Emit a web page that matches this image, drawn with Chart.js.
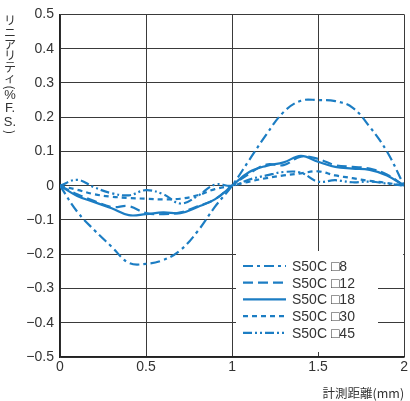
<!DOCTYPE html>
<html>
<head>
    <meta charset="utf-8">
    <title>リニアリティ - S50C</title>
    <style>
        body {
            margin: 0;
            background-color: #fff;
        }
        #wrap {
            width: 410px;
            height: 401px;
        }
    </style>
</head>
<body>
    <div id="wrap">
        <canvas id="lin-chart" width="410" height="401"></canvas>
    </div>

    <script src="https://cdn.jsdelivr.net/npm/chart.js"></script>
    <script>
        // measurement positions (mm)
        const distances = [0, 0.1, 0.2, 0.3, 0.4, 0.5, 0.6, 0.7, 0.8, 0.9, 1.0,
                           1.1, 1.2, 1.3, 1.4, 1.5, 1.6, 1.7, 1.8, 1.9, 2.0];

        // linearity (%F.S.) per target size
        const s50c8  = [0, -0.076, -0.13, -0.178, -0.225, -0.228, -0.217, -0.188, -0.133, -0.062, 0,
                        0.075, 0.15, 0.215, 0.248, 0.25, 0.247, 0.228, 0.172, 0.1, 0];
        const s50c12 = [0, -0.025, -0.045, -0.062, -0.06, -0.08, -0.083, -0.078, -0.06, -0.04, 0,
                        0.035, 0.062, 0.06, 0.085, 0.078, 0.06, 0.055, 0.05, 0.033, 0];
        const s50c18 = [0, -0.03, -0.048, -0.066, -0.086, -0.083, -0.078, -0.08, -0.062, -0.04, 0,
                        0.04, 0.058, 0.068, 0.087, 0.07, 0.055, 0.05, 0.046, 0.03, 0];
        const s50c30 = [0, -0.012, -0.025, -0.032, -0.036, -0.038, -0.04, -0.038, -0.028, -0.01, 0,
                        0.012, 0.022, 0.03, 0.036, 0.042, 0.03, 0.022, 0.014, 0.008, 0];
        const s50c45 = [0, 0.017, -0.005, -0.022, -0.028, -0.013, -0.025, -0.052, -0.03, 0.003, 0,
                        0.018, 0.03, 0.04, 0.038, 0.012, 0.016, 0.01, 0.012, 0.006, 0];

        const seriesNames = ["S50C \u25A18", "S50C \u25A112", "S50C \u25A118", "S50C \u25A130", "S50C \u25A145"];
        const seriesValues = [s50c8, s50c12, s50c18, s50c30, s50c45];
        const seriesDash = [[10, 4, 3, 4], [10, 5], [], [5, 4], [9, 3, 2, 3, 2, 3]];

        const xTickLabels = ["0", "0.5", "1", "1.5", "2"];
        const yTickLabels = ["\u22120.5", "\u22120.4", "\u22120.3", "\u22120.2", "\u22120.1", "0",
                             "0.1", "0.2", "0.3", "0.4", "0.5"];
        const yTitleChars = ["リ", "ニ", "ア", "リ", "テ", "ィ", "(", "%", "F.", "S.", ")"];
        const xTitle = "計測距離(mm)";

        const blue = "#1c7dc3";
        const textColor = "#333";
        const latinFont = "'Liberation Sans', Arial, sans-serif";
        const jpFont = "'Noto Sans CJK JP', sans-serif";

        const datasets = seriesValues.map((vals, i) => ({
            label: seriesNames[i],
            data: distances.map((d, j) => ({ x: d, y: vals[j] })),
            borderColor: blue,
            borderWidth: 2.2,
            borderDash: seriesDash[i],
            pointRadius: 0,
            tension: 0.4,
            fill: false,
        }));

        // legend box and vertical y title
        const extras = {
            id: "extras",
            afterDraw(chart) {
                const ctx = chart.ctx;
                const area = chart.chartArea;
                ctx.save();

                // legend background
                ctx.fillStyle = "#fff";
                ctx.fillRect(236, 251, area.right - 236 - 1, 7);
                ctx.fillRect(236, 258, 142, 94);

                ctx.font = "14px " + latinFont;
                ctx.textBaseline = "middle";
                ctx.textAlign = "left";
                seriesNames.forEach((name, i) => {
                    const y = 266 + i * 16.7;
                    ctx.strokeStyle = blue;
                    ctx.lineWidth = 2.2;
                    ctx.setLineDash(seriesDash[i]);
                    ctx.beginPath();
                    ctx.moveTo(243, y);
                    ctx.lineTo(286, y);
                    ctx.stroke();
                    ctx.setLineDash([]);
                    ctx.fillStyle = textColor;
                    ctx.fillText(name, 292, y + 1);
                });

                // vertical axis title
                const ys = [20, 32, 44, 55.5, 67.5, 78.5, 87.5, 95.5, 108, 122, 132];
                ctx.fillStyle = textColor;
                ctx.textAlign = "center";
                yTitleChars.forEach((ch, i) => {
                    ctx.save();
                    ctx.translate(10, ys[i]);
                    if (ch === "(" || ch === ")") {
                        ctx.rotate(Math.PI / 2);
                    }
                    ctx.font = (ch.length > 1 || ch === "%" ? "13px " + latinFont : "12px " + jpFont);
                    ctx.fillText(ch, 0, 0);
                    ctx.restore();
                });

                ctx.restore();
            }
        };

        new Chart(document.getElementById("lin-chart"), {
            type: "line",
            data: { datasets: datasets },
            options: {
                responsive: false,
                animation: false,
                devicePixelRatio: 1,
                layout: { padding: { top: 13, right: 3, left: 0, bottom: 0 } },
                plugins: {
                    legend: { display: false },
                    tooltip: { enabled: false },
                },
                scales: {
                    x: {
                        type: "linear",
                        min: 0,
                        max: 2,
                        afterFit: (s) => { s.height = 44; },
                        ticks: {
                            stepSize: 0.5,
                            padding: 2,
                            color: textColor,
                            font: { size: 14, family: latinFont },
                            callback: (v, i) => xTickLabels[i],
                        },
                        grid: { color: "#3a3a3a", lineWidth: 1, drawTicks: false },
                        border: { color: "#222", width: 1.5 },
                        title: {
                            display: true,
                            text: xTitle,
                            align: "end",
                            color: textColor,
                            font: { size: 12.5, family: jpFont },
                            padding: { top: 0, bottom: 0 },
                        },
                    },
                    y: {
                        min: -0.5,
                        max: 0.5,
                        afterFit: (s) => { s.width = 60; },
                        ticks: {
                            stepSize: 0.1,
                            padding: 6,
                            color: textColor,
                            font: { size: 14, family: latinFont },
                            callback: (v, i) => yTickLabels[i],
                        },
                        grid: { color: "#3a3a3a", lineWidth: 1, drawTicks: false },
                        border: { color: "#222", width: 1.5 },
                    },
                },
            },
            plugins: [extras],
        });
    </script>
</body>
</html>
